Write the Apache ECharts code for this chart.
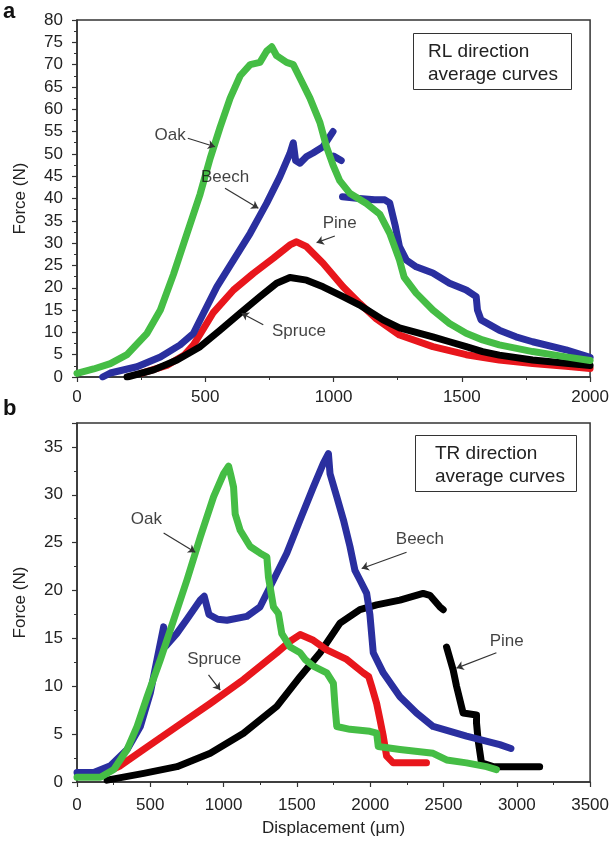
<!DOCTYPE html>
<html><head><meta charset="utf-8">
<script src="https://cdn.jsdelivr.net/npm/echarts@6/dist/echarts.min.js"></script>
<style>html,body{margin:0;padding:0;background:#fff}#c{width:612px;height:841px}</style>
</head><body><div id="c"></div>
<script>
// ---- Panel a: RL direction (x: displacement µm, y: force N) ----
const rlOak = [[0,0.8],[65,1.8],[130,3.0],[195,5.0],[273,9.8],[325,15],[376,23],[428,32],[480,41],[519,49],[558,56],[597,62.5],[636,67.5],[675,70],[713,70.5],[739,73],[759,74],[778,72],[817,70.5],[843,70],[869,67],[908,62.5],[947,57],[973,51.5],[998,47.5],[1024,44],[1063,41.2],[1128,38.9],[1180,36.5],[1219,32.2],[1257,26.2],[1275,22.4],[1322,18.8],[1387,15],[1452,12],[1517,9.8],[1581,8.3],[1646,7.2],[1776,5.7],[1906,4.5],[2000,3.7]];
const rlBeech = [[100,0],[130,0.9],[234,2.3],[325,4.5],[402,7.2],[454,9.8],[493,14.3],[545,20.2],[610,26.2],[675,32.2],[739,38.9],[791,44.9],[830,50.1],[843,52.5],[852,48.5],[869,47.9],[895,49.4],[920,50.2],[959,51.6],[998,55],[999,'-'],[1000,49.5],[1030,48.5],[1032,'-'],[1035,40.4],[1100,40],[1160,39.7],[1200,39.7],[1219,39],[1240,34],[1257,29.2],[1284,26.2],[1322,24.7],[1387,23.3],[1452,21],[1517,19.5],[1556,18],[1561,15],[1575,12.8],[1646,10.5],[1711,9],[1776,7.9],[1906,6.1],[2000,4.4]];
const rlPine = [[250,0.8],[350,2.6],[420,5.0],[454,7.2],[480,9.6],[532,14.5],[610,19.5],[687,23.2],[765,26.6],[830,29.6],[856,30.3],[895,29.2],[959,25.5],[1037,20.2],[1102,16.5],[1167,13.0],[1257,9.4],[1387,6.8],[1517,5.0],[1646,3.8],[1776,3.0],[1906,2.4],[2000,1.9]];
const rlSpruce = [[195,0],[299,1.6],[390,3.8],[480,6.8],[558,10.5],[636,14.3],[713,18],[778,21],[830,22.3],[895,21.7],[959,20.2],[1037,18],[1102,16.1],[1193,12.8],[1257,11],[1322,10],[1387,9],[1452,7.9],[1517,6.8],[1581,5.7],[1646,4.9],[1776,3.8],[1906,3.1],[2000,2.6]];
const rlLabels = [['Oak',363,54.2],['Beech',577,44.8],['Pine',1024,34.5],['Spruce',865,10.2]];
const rlArrows = [[[432,53.5],[538,51.6]],[[577,42.3],[707,37.8]],[[1005,31.6],[934,30.1]],[[726,11.7],[642,14.3]]];

// ---- Panel b: TR direction ----
const trOak = [[0,0.5],[160,0.5],[251,1.3],[342,3.4],[410,5.8],[478,8.9],[569,12.8],[659,16.9],[750,21.1],[841,25.6],[932,29.8],[1000,32.2],[1034,33.0],[1050,32],[1068,30.8],[1079,28],[1113,26.3],[1181,24.6],[1249,23.9],[1295,23.5],[1306,21.4],[1340,18.3],[1374,17.6],[1397,15.5],[1454,14.1],[1522,13.5],[1556,12.8],[1612,12.1],[1704,11.4],[1749,10.3],[1760,7.9],[1772,5.8],[1862,5.5],[1998,5.3],[2044,5.1],[2055,3.7],[2203,3.4],[2429,3.0],[2521,2.3],[2657,2.0],[2793,1.6],[2861,1.3]];
const trBeech = [[0,1.0],[114,1.0],[228,1.7],[342,3.4],[432,5.8],[500,9.3],[546,12.8],[591,16.2],[605,14.2],[680,15.5],[750,17],[841,19],[868,19.4],[900,17.5],[960,17],[1023,16.9],[1159,17.3],[1249,18.3],[1340,21.1],[1431,23.9],[1522,27.4],[1612,30.8],[1681,33.3],[1715,34.3],[1726,32.2],[1772,29.8],[1817,27.4],[1862,24.6],[1896,22.1],[1930,21.1],[1976,19.7],[1998,17.5],[2021,13.5],[2089,11.4],[2203,8.9],[2316,7.2],[2429,5.8],[2657,4.8],[2884,3.9],[2960,3.5]];
const trSpruce = [[100,0.6],[200,1.0],[296,1.7],[455,3.4],[682,5.8],[909,8.2],[1136,10.7],[1363,13.5],[1454,14.7],[1522,15.4],[1612,14.8],[1704,13.8],[1840,12.8],[1953,11.4],[1990,11],[2010,10],[2044,8.2],[2067,6.5],[2089,4.8],[2112,2.7],[2157,2.0],[2384,2.0]];
const trPine = [[205,0.2],[455,0.9],[682,1.6],[909,3.0],[1136,5.1],[1363,7.9],[1522,11],[1658,13.5],[1794,16.6],[1930,18],[2044,18.5],[2203,19],[2361,19.7],[2407,19.5],[2475,18.3],[2498,18],[2510,'-'],[2521,14.1],[2566,11.7],[2589,10],[2634,7.2],[2725,7.0],[2725,6.2],[2736,4.4],[2759,2.0],[2838,1.6],[3156,1.6]];
const trLabels = [['Oak',473,27.4],['Spruce',936,12.8],['Beech',2339,25.3],['Pine',2931,14.7]];
const trArrows = [[[591,26.0],[807,24.0]],[[897,11.2],[977,9.6]],[[2248,24.0],[1942,22.3]],[[2861,13.5],[2589,11.9]]];

const FONT = 'Liberation Sans, Arial, sans-serif';
const C = {oak:'#45bd45', beech:'#2a2f9f', pine:'#e8161c', spruce:'#000000'};

function axisCommon(){
  return {
    axisLine:{show:true,onZero:false,lineStyle:{color:'#333',width:1.5}},
    axisTick:{show:true,inside:false,length:5,lineStyle:{color:'#333',width:1.2}},
    minorTick:{show:true,splitNumber:2,length:3,lineStyle:{color:'#333',width:1}},
    splitLine:{show:false},
    axisLabel:{color:'#222',fontSize:17,fontFamily:FONT,formatter:v=>String(v)}
  };
}
function lineSeries(name,data,color,gi){
  return {type:'line',name:name,data:data,xAxisIndex:gi,yAxisIndex:gi,showSymbol:false,symbol:'none',
    connectNulls:false,lineStyle:{color:color,width:7,cap:'round',join:'round'},itemStyle:{color:color},z:2};
}
function annoSeries(labels,arrows,gi){
  return {type:'scatter',xAxisIndex:gi,yAxisIndex:gi,symbolSize:1,itemStyle:{color:'rgba(0,0,0,0)'},z:5,
    data:labels.map(l=>[l[1],l[2],l[0]]),
    label:{show:true,position:'inside',formatter:p=>p.data[2],color:'#111',fontSize:17,fontFamily:FONT},
    markLine:{silent:true,symbol:['none','arrow'],symbolSize:7,animation:false,
      lineStyle:{color:'#333',width:1.2,type:'solid'},label:{show:false},
      data:arrows.map(a=>[{coord:a[0]},{coord:a[1]}])}
  };
}

const chart = echarts.init(document.getElementById('c'),null,{renderer:'canvas'});
const xa0 = Object.assign(axisCommon(),{type:'value',gridIndex:0,min:0,max:2000,interval:500});
xa0.axisLabel = Object.assign({},xa0.axisLabel,{margin:12});
const ya0 = Object.assign(axisCommon(),{type:'value',gridIndex:0,min:0,max:80,interval:5,
  name:'Force (N)',nameLocation:'middle',nameGap:48,nameRotate:90,
  nameTextStyle:{color:'#222',fontSize:17,fontFamily:FONT}});
ya0.axisLabel = Object.assign({},ya0.axisLabel,{margin:14});
const xa1 = Object.assign(axisCommon(),{type:'value',gridIndex:1,min:0,max:3500,interval:500,
  name:'Displacement (µm)',nameLocation:'middle',nameGap:38,
  nameTextStyle:{color:'#222',fontSize:17,fontFamily:FONT}});
xa1.axisLabel = Object.assign({},xa1.axisLabel,{margin:15});
const ya1 = Object.assign(axisCommon(),{type:'value',gridIndex:1,min:0,max:37.5,interval:5,
  name:'Force (N)',nameLocation:'middle',nameGap:48,nameRotate:90,
  nameTextStyle:{color:'#222',fontSize:17,fontFamily:FONT}});
ya1.axisLabel = Object.assign({},ya1.axisLabel,{margin:14,showMaxLabel:false});

chart.setOption({
  animation:false,
  backgroundColor:'#fff',
  title:[
    {text:'a',left:3,top:1,padding:0,textStyle:{fontSize:22,fontWeight:'bold',color:'#111',fontFamily:FONT}},
    {text:'b',left:3,top:398,padding:0,textStyle:{fontSize:22,fontWeight:'bold',color:'#111',fontFamily:FONT}},
    {text:'RL direction\naverage curves',left:413,top:33,borderColor:'#333',borderWidth:1,padding:[7,14,4,15],
      textStyle:{fontSize:19,fontWeight:'normal',color:'#222',lineHeight:23,fontFamily:FONT}},
    {text:'TR direction\naverage curves',left:415,top:435,borderColor:'#333',borderWidth:1,padding:[7,12,4,20],
      textStyle:{fontSize:19,fontWeight:'normal',color:'#222',lineHeight:23,fontFamily:FONT}}
  ],
  grid:[
    {left:77,right:21,top:20,height:357,show:true,borderColor:'#333',borderWidth:1.5,backgroundColor:'transparent'},
    {left:77,right:21,top:423,height:359,show:true,borderColor:'#333',borderWidth:1.5,backgroundColor:'transparent'}
  ],
  xAxis:[xa0,xa1],
  yAxis:[ya0,ya1],
  series:[
    lineSeries('Pine',rlPine,C.pine,0),
    lineSeries('Spruce',rlSpruce,C.spruce,0),
    lineSeries('Beech',rlBeech,C.beech,0),
    lineSeries('Oak',rlOak,C.oak,0),
    annoSeries(rlLabels,rlArrows,0),
    lineSeries('Pine',trPine,C.spruce,1),
    lineSeries('Spruce',trSpruce,C.pine,1),
    lineSeries('Beech',trBeech,C.beech,1),
    lineSeries('Oak',trOak,C.oak,1),
    annoSeries(trLabels,trArrows,1)
  ]
});
</script></body></html>
